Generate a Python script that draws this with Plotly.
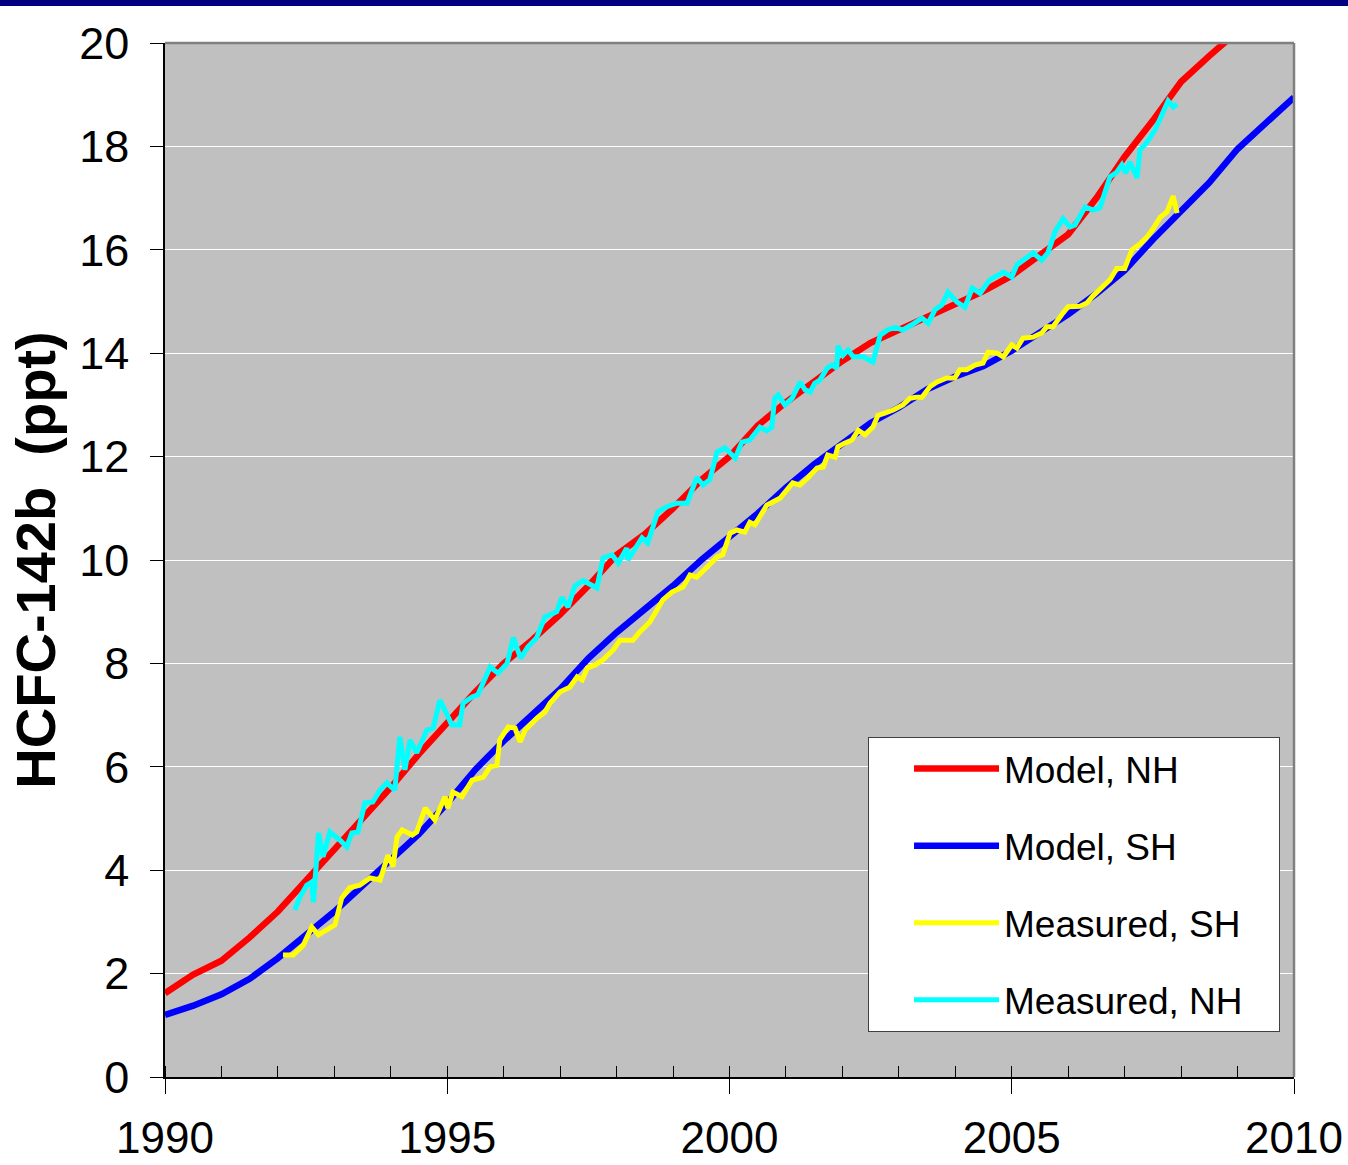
import plotly.graph_objects as go

# ---------------- data ----------------
model_years = [1990.0, 1990.5, 1991.0, 1991.5, 1992.0, 1992.5, 1993.0, 1993.5, 1994.0, 1994.5,
               1995.0, 1995.5, 1996.0, 1996.5, 1997.0, 1997.5, 1998.0, 1998.5, 1999.0, 1999.5,
               2000.0, 2000.5, 2001.0, 2001.5, 2002.0, 2002.5, 2003.0, 2003.5, 2004.0, 2004.5,
               2005.0, 2005.5, 2006.0, 2006.5, 2007.0, 2007.5, 2008.0, 2008.5, 2009.0, 2009.5, 2010.0]
model_nh = [1.62, 1.98, 2.25, 2.7, 3.2, 3.8, 4.4, 5.0, 5.6, 6.25,
            6.85, 7.45, 8.0, 8.45, 8.95, 9.5, 10.1, 10.5, 11.0, 11.55,
            12.0, 12.6, 13.05, 13.45, 13.85, 14.2, 14.45, 14.7, 14.95, 15.2,
            15.5, 15.9, 16.3, 17.0, 17.8, 18.5, 19.25, 19.75, 20.2, 20.7, 21.2]
model_sh = [1.2, 1.38, 1.6, 1.9, 2.3, 2.75, 3.2, 3.7, 4.2, 4.7,
            5.3, 5.95, 6.5, 7.0, 7.5, 8.1, 8.6, 9.05, 9.5, 10.0,
            10.45, 10.9, 11.4, 11.85, 12.25, 12.65, 12.95, 13.3, 13.55, 13.75,
            14.05, 14.4, 14.75, 15.15, 15.6, 16.2, 16.75, 17.3, 17.95, 18.45, 18.95]

meas_sh_years = [1992.09, 1992.27, 1992.45, 1992.6, 1992.72, 1993.01, 1993.13, 1993.27, 1993.45, 1993.63,
                 1993.81, 1993.95, 1994.04, 1994.11, 1994.2, 1994.38, 1994.46, 1994.61, 1994.78, 1994.96,
                 1995.01, 1995.1, 1995.26, 1995.44, 1995.64, 1995.76, 1995.88, 1995.93, 1996.08, 1996.2,
                 1996.29, 1996.38, 1996.59, 1996.73, 1996.82, 1997.0, 1997.17, 1997.3, 1997.39, 1997.48,
                 1997.62, 1997.76, 1997.94, 1998.06, 1998.29, 1998.41, 1998.59, 1998.82, 1998.98, 1999.18,
                 1999.3, 1999.42, 1999.6, 1999.78, 1999.88, 2000.01, 2000.13, 2000.27, 2000.36, 2000.45,
                 2000.66, 2000.9, 2001.12, 2001.25, 2001.39, 2001.55, 2001.66, 2001.74, 2001.87, 2001.92,
                 2002.04, 2002.17, 2002.28, 2002.4, 2002.54, 2002.63, 2002.75, 2002.9, 2003.07, 2003.2,
                 2003.32, 2003.41, 2003.55, 2003.67, 2003.85, 2003.99, 2004.08, 2004.2, 2004.35, 2004.49,
                 2004.58, 2004.74, 2004.85, 2005.0, 2005.09, 2005.2, 2005.38, 2005.53, 2005.62, 2005.73,
                 2005.91, 2006.0, 2006.21, 2006.33, 2006.44, 2006.62, 2006.74, 2006.86, 2007.0, 2007.13,
                 2007.27, 2007.39, 2007.5, 2007.63, 2007.75, 2007.86, 2007.93]
meas_sh = [2.36, 2.36, 2.55, 2.9, 2.75, 2.94, 3.46, 3.66, 3.71, 3.85,
           3.81, 4.29, 4.07, 4.64, 4.78, 4.68, 4.74, 5.2, 4.97, 5.42,
           5.2, 5.51, 5.42, 5.74, 5.8, 6.0, 6.03, 6.52, 6.77, 6.75,
           6.48, 6.71, 6.94, 7.06, 7.23, 7.45, 7.54, 7.74, 7.68, 7.91,
           7.97, 8.07, 8.26, 8.45, 8.45, 8.61, 8.8, 9.23, 9.38, 9.48,
           9.71, 9.67, 9.86, 10.06, 10.1, 10.52, 10.58, 10.54, 10.73, 10.68,
           11.06, 11.2, 11.49, 11.45, 11.59, 11.78, 11.8, 12.03, 11.99, 12.19,
           12.26, 12.32, 12.51, 12.42, 12.57, 12.8, 12.84, 12.9, 13.0, 13.13,
           13.15, 13.15, 13.35, 13.44, 13.52, 13.52, 13.68, 13.68, 13.77, 13.81,
           14.02, 14.0, 13.93, 14.16, 14.1, 14.29, 14.31, 14.39, 14.51, 14.51,
           14.78, 14.9, 14.91, 14.97, 15.11, 15.28, 15.42, 15.64, 15.64, 16.0,
           16.11, 16.24, 16.4, 16.63, 16.73, 17.04, 16.71]

meas_nh_years = [1992.3, 1992.39, 1992.51, 1992.6, 1992.63, 1992.72, 1992.8, 1992.92, 1993.1, 1993.22,
                 1993.31, 1993.42, 1993.54, 1993.68, 1993.81, 1993.93, 1994.07, 1994.16, 1994.25, 1994.34,
                 1994.46, 1994.64, 1994.75, 1994.87, 1995.0, 1995.08, 1995.22, 1995.28, 1995.44, 1995.54,
                 1995.76, 1995.9, 1996.06, 1996.17, 1996.3, 1996.43, 1996.58, 1996.73, 1996.94, 1997.03,
                 1997.14, 1997.26, 1997.41, 1997.65, 1997.76, 1997.92, 1998.03, 1998.18, 1998.2, 1998.36,
                 1998.45, 1998.55, 1998.73, 1998.89, 1999.07, 1999.25, 1999.42, 1999.53, 1999.65, 1999.78,
                 1999.92, 2000.1, 2000.22, 2000.36, 2000.54, 2000.66, 2000.75, 2000.8, 2000.86, 2000.98,
                 2001.11, 2001.25, 2001.34, 2001.43, 2001.51, 2001.6, 2001.73, 2001.82, 2001.9, 2001.92,
                 2002.01, 2002.1, 2002.19, 2002.37, 2002.54, 2002.67, 2002.8, 2002.93, 2003.07, 2003.23,
                 2003.41, 2003.52, 2003.64, 2003.76, 2003.87, 2004.03, 2004.17, 2004.3, 2004.44, 2004.61,
                 2004.85, 2005.0, 2005.09, 2005.38, 2005.53, 2005.64, 2005.77, 2005.91, 2006.03, 2006.12,
                 2006.3, 2006.44, 2006.56, 2006.74, 2006.86, 2006.95, 2007.02, 2007.09, 2007.22, 2007.27,
                 2007.39, 2007.54, 2007.68, 2007.77, 2007.86, 2007.93]
meas_nh = [3.23, 3.48, 3.71, 3.77, 3.38, 4.72, 4.26, 4.74, 4.58, 4.45,
           4.72, 4.74, 5.3, 5.32, 5.55, 5.69, 5.55, 6.58, 5.94, 6.52,
           6.27, 6.71, 6.75, 7.29, 7.0, 6.81, 6.81, 7.23, 7.35, 7.39,
           7.93, 7.81, 8.0, 8.5, 8.1, 8.32, 8.49, 8.9, 9.0, 9.28,
           9.09, 9.5, 9.6, 9.46, 10.04, 10.1, 9.94, 10.23, 10.0, 10.25,
           10.43, 10.33, 10.93, 11.03, 11.1, 11.1, 11.6, 11.45, 11.55, 12.09,
           12.17, 11.97, 12.28, 12.32, 12.57, 12.5, 12.57, 13.13, 13.19, 13.0,
           13.13, 13.44, 13.29, 13.25, 13.42, 13.48, 13.71, 13.77, 13.71, 14.14,
           13.96, 14.06, 13.93, 13.93, 13.83, 14.35, 14.45, 14.5, 14.45, 14.55,
           14.68, 14.58, 14.84, 14.93, 15.18, 14.99, 14.89, 15.26, 15.16, 15.42,
           15.57, 15.47, 15.71, 15.94, 15.8, 15.94, 16.36, 16.6, 16.44, 16.48,
           16.83, 16.77, 16.81, 17.41, 17.5, 17.64, 17.48, 17.7, 17.39, 17.93,
           18.07, 18.32, 18.7, 18.88, 18.76, 18.82]

series_names = ["Model, NH", "Model, SH", "Measured, SH", "Measured, NH"]
series_colors = ["#FF0000", "#0000FF", "#FFFF00", "#00FFFF"]

x_range = [1990, 2010]
y_range = [0, 20]
x_tick_labels = ["1990", "1995", "2000", "2005", "2010"]
x_tick_vals = [1990, 1995, 2000, 2005, 2010]

FONT = "Liberation Sans, Arial, sans-serif"
PAD = "\u00a0\u00a0\u00a0"  # trailing blank room inside the legend box

fig = go.Figure()
fig.add_trace(go.Scatter(x=model_years, y=model_nh, mode="lines", name=series_names[0] + PAD,
                         line=dict(color=series_colors[0], width=6.5), legendgroup="a"))
fig.add_trace(go.Scatter(x=model_years, y=model_sh, mode="lines", name=series_names[1] + PAD,
                         line=dict(color=series_colors[1], width=6.5), legendgroup="b"))
fig.add_trace(go.Scatter(x=meas_sh_years, y=meas_sh, mode="lines", name=series_names[2] + PAD,
                         line=dict(color=series_colors[2], width=5), legendgroup="c"))
fig.add_trace(go.Scatter(x=meas_nh_years, y=meas_nh, mode="lines", name=series_names[3] + PAD,
                         line=dict(color=series_colors[3], width=5), legendgroup="d"))

fig.update_layout(
    width=1348, height=1165,
    margin=dict(l=165, r=54, t=43, b=88, autoexpand=False),
    paper_bgcolor="white",
    plot_bgcolor="#C0C0C0",
    font=dict(family=FONT, color="black"),
    showlegend=True,
    legend=dict(
        x=0.6227, y=0.3288, xanchor="left", yanchor="top",
        bgcolor="white", bordercolor="#404040", borderwidth=1,
        font=dict(size=37, family=FONT, color="black"),
        itemwidth=85, indentation=40, tracegroupgap=26,
        traceorder="grouped",
    ),
    xaxis=dict(
        range=x_range, tickvals=x_tick_vals, ticktext=x_tick_labels,
        ticks="outside", ticklen=15, tickwidth=1, tickcolor="black",
        showline=True, linecolor="black", linewidth=1.5,
        showgrid=False, zeroline=False, automargin=False,
        tickfont=dict(size=44, family=FONT, color="black"),
        ticklabelstandoff=6,
        minor=dict(ticks="inside", dtick=1, ticklen=11, tickcolor="black", tickwidth=1, showgrid=False),
    ),
    yaxis=dict(
        range=y_range, dtick=2, tick0=0,
        ticks="outside", ticklen=13, tickwidth=1, tickcolor="black",
        showline=True, linecolor="black", linewidth=1.5,
        showgrid=True, gridcolor="white", gridwidth=1.2,
        zeroline=False, automargin=False,
        tickfont=dict(size=45, family=FONT, color="black"),
        ticklabelstandoff=12,
        title=dict(text="<b>HCFC-142b\u00a0 (ppt)</b>", font=dict(size=56, family=FONT, color="black"),
                   standoff=6),
    ),
    shapes=[
        dict(type="rect", xref="paper", yref="paper", x0=-0.2, x1=1.1,
             y0=1 + 37 / 1034, y1=1 + 45 / 1034, fillcolor="#000080", line=dict(width=0), layer="above"),
        dict(type="line", xref="paper", yref="paper", x0=0, x1=1, y0=1, y1=1,
             line=dict(color="#808080", width=2.5), layer="above"),
        dict(type="line", xref="paper", yref="paper", x0=1, x1=1, y0=0, y1=1,
             line=dict(color="#808080", width=2.5), layer="above"),
    ],
)

fig.write_html("out.html")
